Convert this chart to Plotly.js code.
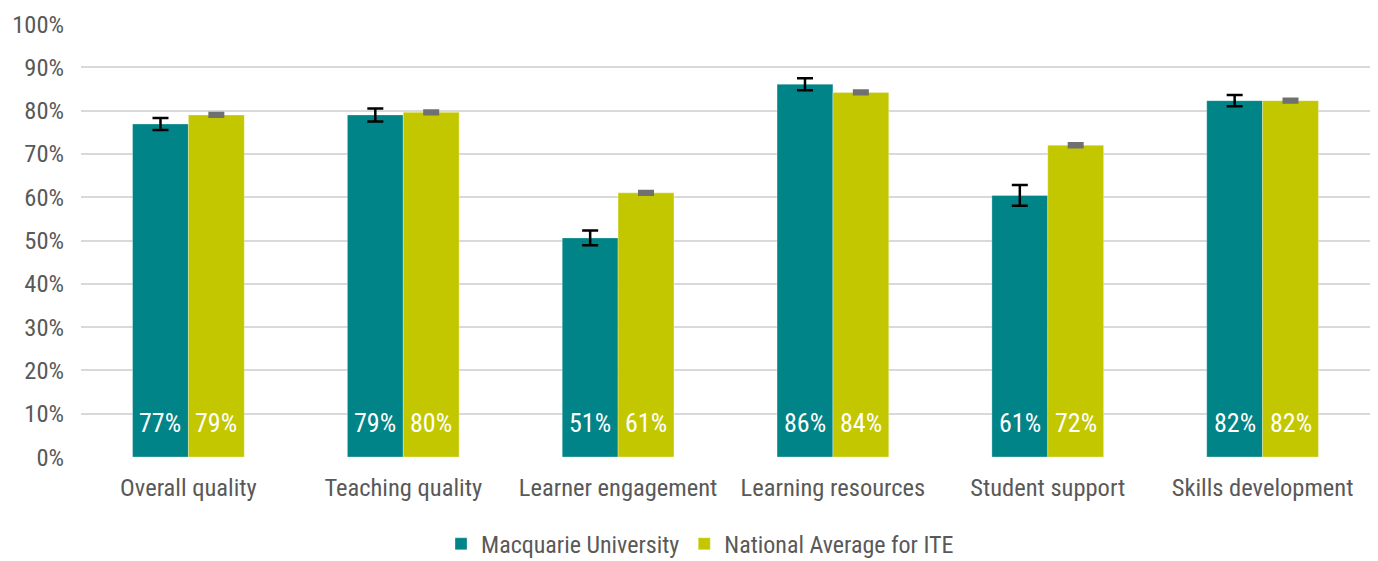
<!DOCTYPE html>
<html>
<head>
<meta charset="utf-8">
<script src="https://cdn.plot.ly/plotly-3.0.1.min.js"></script>
<style>html,body{margin:0;padding:0;background:#fff;}#chart{width:1378px;height:561px;}</style>
</head>
<body>
<div id="chart"></div>
<script>
var categories = ['Overall quality', 'Teaching quality', 'Learner engagement', 'Learning resources', 'Student support', 'Skills development'];
var macqValues = [76.9, 79.0, 50.6, 86.1, 60.4, 82.3];
var macqErrors = [1.4, 1.5, 1.7, 1.4, 2.4, 1.3];
var macqLabels = ['77%', '79%', '51%', '86%', '61%', '82%'];
var natValues = [79.0, 79.6, 61.0, 84.2, 72.0, 82.3];
var natErrors = [0.15, 0.15, 0.15, 0.15, 0.15, 0.15];
var natLabels = ['79%', '80%', '61%', '84%', '72%', '82%'];
var yTickVals = [0, 10, 20, 30, 40, 50, 60, 70, 80, 90, 100];
var yTickText = ['0%', '10%', '20%', '30%', '40%', '50%', '60%', '70%', '80%', '90%', '100%'];

var FONT = '"Liberation Sans Narrow", "Roboto Condensed", "DejaVu Sans Condensed", Roboto, sans-serif';
var TEAL = '#008487';
var LIME = '#C3C700';

var traces = [
  {
    type: 'bar', name: 'Macquarie University', x: categories, y: macqValues,
    marker: {color: TEAL, line: {color: 'rgba(255,255,255,0.6)', width: 0.5}},
    error_y: {type: 'data', array: macqErrors, visible: true, color: '#000000', thickness: 2.5, width: 8},
    hoverinfo: 'x+y'
  },
  {
    type: 'bar', name: 'National Average for ITE', x: categories, y: natValues,
    marker: {color: LIME, line: {color: 'rgba(255,255,255,0.6)', width: 0.5}},
    error_y: {type: 'data', array: natErrors, visible: true, color: '#707070', thickness: 5, width: 8},
    hoverinfo: 'x+y'
  }
];

var annotations = [];
categories.forEach(function (c, i) {
  annotations.push({x: c, y: 0, xref: 'x', yref: 'y', text: macqLabels[i], showarrow: false,
    xshift: -28, yshift: 34, yanchor: 'middle', xanchor: 'center', font: {family: FONT, size: 26, color: '#ffffff'}});
  annotations.push({x: c, y: 0, xref: 'x', yref: 'y', text: natLabels[i], showarrow: false,
    xshift: 28, yshift: 34, yanchor: 'middle', xanchor: 'center', font: {family: FONT, size: 26, color: '#ffffff'}});
});

var layout = {
  width: 1378, height: 561,
  margin: {l: 81, r: 8, t: 24, b: 104, autoexpand: false},
  paper_bgcolor: '#ffffff', plot_bgcolor: '#ffffff',
  font: {family: FONT, size: 24.5, color: '#595959'},
  barmode: 'group', bargap: 0.48, bargroupgap: 0,
  showlegend: true,
  legend: {orientation: 'h', x: 0.508, xanchor: 'center', xref: 'container', y: 0.03, yanchor: 'middle', yref: 'container',
    font: {family: FONT, size: 24, color: '#595959'}, itemwidth: 30, tracegroupgap: 0},
  xaxis: {type: 'category', showgrid: false, zeroline: false, showline: false, ticks: '',
    tickfont: {family: FONT, size: 24.5, color: '#595959'}, ticklabelstandoff: 13, fixedrange: true},
  yaxis: {range: [0, 100], tickvals: yTickVals, ticktext: yTickText, showgrid: true,
    gridcolor: '#d9d9d9', gridwidth: 2, zeroline: false, showline: false, ticks: '',
    tickfont: {family: FONT, size: 24.5, color: '#595959'}, ticklabelstandoff: 16, fixedrange: true},
  annotations: annotations
};

Plotly.newPlot('chart', traces, layout, {displayModeBar: false, staticPlot: true});
</script>
</body>
</html>
